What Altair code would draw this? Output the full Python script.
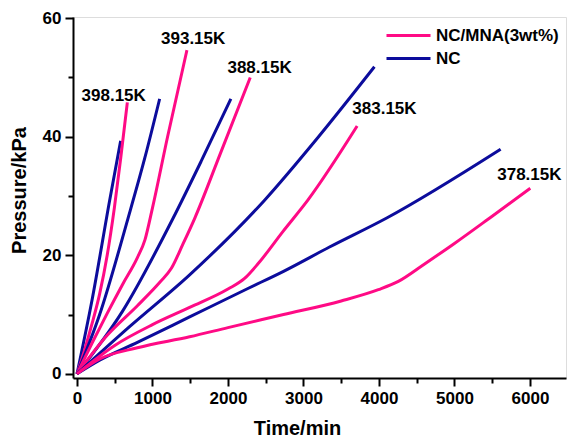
import altair as alt
import pandas as pd

FONT = "Liberation Sans"

# ---- data (time in min, pressure in kPa) ----
nc_398_t = [0, 200, 433, 578]
nc_398_p = [0, 12.5, 29.3, 39.3]
mna_398_t = [0, 100, 200, 300, 400, 495, 580, 667]
mna_398_p = [0, 4.0, 8.5, 13.5, 20.0, 28.0, 36.5, 45.8]

nc_393_t = [0, 300, 675, 900, 1095]
nc_393_p = [0, 10.0, 26.2, 36.5, 46.4]
mna_393_t = [0, 200, 400, 600, 800, 900, 1000, 1200, 1456]
mna_393_p = [0, 5.2, 10.2, 15.0, 19.6, 22.6, 28.0, 40.0, 54.6]

nc_388_t = [0, 600, 1271, 1650, 2039]
nc_388_p = [0, 10.5, 26.2, 36.0, 46.4]
mna_388_t = [0, 400, 800, 1100, 1250, 1400, 1558, 1900, 2295]
mna_388_p = [0, 6.5, 11.5, 15.5, 17.8, 21.8, 26.2, 37.2, 50.0]

nc_383_t = [0, 700, 1492, 2485, 3200, 3940]
nc_383_p = [0, 8.0, 16.7, 29.3, 40.0, 51.8]
mna_383_t = [0, 500, 1000, 1492, 2000, 2220, 2400, 2727, 3058, 3711]
mna_383_p = [0, 4.8, 8.3, 11.2, 14.3, 16.1, 18.6, 24.0, 29.3, 41.8]

nc_378_t = [0, 300, 800, 1492, 2264, 2736, 3345, 4103, 5612]
nc_378_p = [0, 2.3, 5.3, 9.6, 14.4, 17.3, 21.4, 26.3, 37.9]
mna_378_t = [0, 300, 800, 1492, 2000, 2736, 3500, 3992, 4257, 4600, 5000, 5500, 6005]
mna_378_p = [0, 2.5, 4.4, 6.25, 7.8, 10.0, 12.3, 14.2, 15.6, 18.5, 22.0, 26.6, 31.3]

materials = ["NC/MNA(3wt%)", "NC"]
colors = ["#FF0A85", "#0C0C9C"]

label_text = ["398.15K", "393.15K", "388.15K", "383.15K", "378.15K"]
label_t = [486, 1539, 2419, 4073, 5993]
label_p = [46.1, 55.6, 50.8, 43.8, 32.7]

x_ticks = [0, 500, 1000, 1500, 2000, 2500, 3000, 3500, 4000, 4500, 5000, 5500, 6000, 6500]
y_ticks = [0, 10, 20, 30, 40, 50, 60]

series = [
    ("NC", "398.15K", nc_398_t, nc_398_p),
    ("NC/MNA(3wt%)", "398.15K", mna_398_t, mna_398_p),
    ("NC", "393.15K", nc_393_t, nc_393_p),
    ("NC/MNA(3wt%)", "393.15K", mna_393_t, mna_393_p),
    ("NC", "388.15K", nc_388_t, nc_388_p),
    ("NC/MNA(3wt%)", "388.15K", mna_388_t, mna_388_p),
    ("NC", "383.15K", nc_383_t, nc_383_p),
    ("NC/MNA(3wt%)", "383.15K", mna_383_t, mna_383_p),
    ("NC", "378.15K", nc_378_t, nc_378_p),
    ("NC/MNA(3wt%)", "378.15K", mna_378_t, mna_378_p),
]
rows = []
for mat, temp, ts, ps in series:
    for i, (t, p) in enumerate(zip(ts, ps)):
        rows.append({"t": t, "p": p, "material": mat, "series": mat + temp, "i": i})
df = pd.DataFrame(rows)
labels_df = pd.DataFrame({"text": label_text, "t": label_t, "p": label_p})

xscale = alt.Scale(domain=[-53, 6478], nice=False, zero=False)
yscale = alt.Scale(domain=[-0.7, 60.2], nice=False, zero=False)

axis_common = dict(
    domainColor="black", domainWidth=2, tickColor="black", tickWidth=2,
    labelFont=FONT, labelFontWeight="bold", labelFontSize=17, labelColor="black",
    titleFont=FONT, titleFontWeight="bold", titleFontSize=20, titleColor="black",
    grid=False, labelPadding=4,
)

lines = alt.Chart(df).mark_line(strokeWidth=3, interpolate="monotone").encode(
    x=alt.X("t:Q", scale=xscale,
            axis=alt.Axis(values=x_ticks, format="d",
                          tickSize={"condition": {"test": "datum.value % 1000 === 0", "value": 8}, "value": 5},
                          labelExpr="datum.value % 1000 === 0 ? datum.label : ''",
                          title="Time/min", titleX=224, titleY=56,
                          titleBaseline="alphabetic", titleAlign="center",
                          orient="bottom", **axis_common)),
    y=alt.Y("p:Q", scale=yscale,
            axis=alt.Axis(values=y_ticks, format="d",
                          tickSize={"condition": {"test": "datum.value % 20 === 0", "value": 8}, "value": 5},
                          labelExpr="datum.value % 20 === 0 ? datum.label : ''",
                          title="Pressure/kPa", titleX=-48, titleY=173,
                          titleBaseline="alphabetic", titleAlign="center",
                          orient="left", **axis_common)),
    color=alt.Color("material:N",
                    scale=alt.Scale(domain=materials, range=colors),
                    legend=alt.Legend(title=None, orient="none", legendX=323, legendY=6,
                                      symbolType="M-2,0L2,0", symbolSize=484,
                                      symbolStrokeWidth=3, labelFont=FONT,
                                      labelFontWeight="bold", labelFontSize=17,
                                      labelColor="black", labelOffset=15,
                                      rowPadding=2, padding=0)),
    detail="series:N",
    order="i:Q",
)

text = alt.Chart(labels_df).mark_text(
    font=FONT, fontWeight="bold", fontSize=17, color="black",
    align="center", baseline="alphabetic"
).encode(
    x=alt.X("t:Q", scale=xscale),
    y=alt.Y("p:Q", scale=yscale),
    text="text:N",
)

chart = alt.layer(lines, text).properties(
    width=493, height=361, autosize="none",
    padding={"left": 73, "top": 17, "right": 2, "bottom": 59},
).configure_view(stroke="black", strokeWidth=2).configure(background="white")

chart.save("out.html", embed_options={"renderer": "svg", "actions": False})
